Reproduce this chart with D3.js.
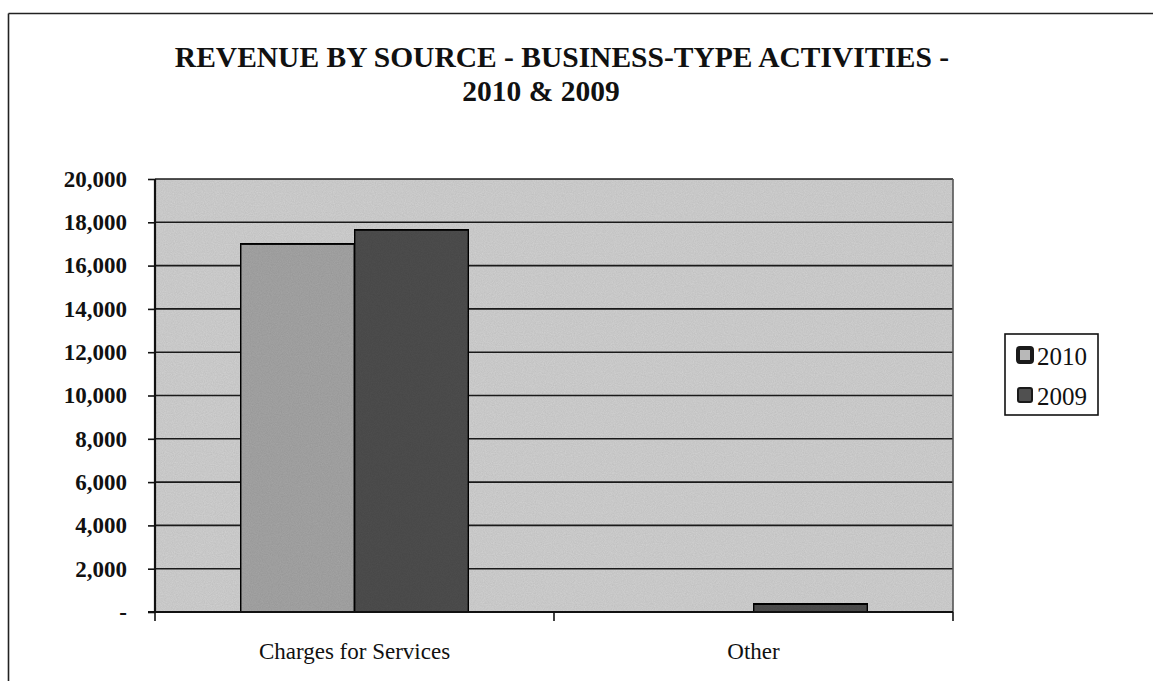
<!DOCTYPE html>
<html>
<head>
<meta charset="utf-8">
<script src="https://cdn.jsdelivr.net/npm/d3@7"></script>
<style>
  html, body { margin: 0; padding: 0; background: #fff; }
  svg { display: block; }
</style>
</head>
<body>
<svg id="chart" width="1153" height="681"></svg>
<script>
// Revenue by source, business-type activities (thousands of dollars)
const categories = ["Charges for Services", "Other"];
const seriesNames = ["2010", "2009"];
const values2010 = [17000, 40];
const values2009 = [17650, 370];
const yTicks = [0, 2000, 4000, 6000, 8000, 10000, 12000, 14000, 16000, 18000, 20000];
const titleLines = ["REVENUE BY SOURCE - BUSINESS-TYPE ACTIVITIES -", "2010 & 2009"];

const colors = { "2010": "#a6a6a6", "2009": "#505050" };
const serif = "'Liberation Serif', 'Times New Roman', serif";

const svg = d3.select("#chart");
const W = 1153, H = 681;
const plot = { left: 155, top: 179, right: 953, bottom: 612 };

// Outer chart frame (top and left edges visible)
svg.append("line").attr("x1", 8.5).attr("y1", 13.5).attr("x2", W).attr("y2", 13.5)
  .attr("stroke", "#222").attr("stroke-width", 1.6);
svg.append("line").attr("x1", 8.5).attr("y1", 13.5).attr("x2", 8.5).attr("y2", H)
  .attr("stroke", "#222").attr("stroke-width", 1.6);

// Title
svg.append("text")
  .attr("font-family", serif).attr("font-weight", "bold").attr("font-size", 29.5)
  .attr("fill", "#111").attr("text-anchor", "middle")
  .selectAll("tspan").data(titleLines).join("tspan")
  .attr("x", (d, i) => i === 0 ? 562 : 541)
  .attr("y", (d, i) => 67 + i * 34)
  .text(d => d);

const x0 = d3.scaleBand().domain(categories).range([plot.left, plot.right]).paddingInner(0).paddingOuter(0);
const y = d3.scaleLinear().domain([0, 20000]).range([plot.bottom, plot.top]);
// Excel-style 150% gap width: two bars take 2/3.5 of each band
const groupW = x0.bandwidth() * 2 / 3.5;
const x1 = d3.scaleBand().domain(seriesNames).range([0, groupW]);

// Grain for the plot area and bars
const defs = svg.append("defs");
const f = defs.append("filter").attr("id", "grain").attr("x", 0).attr("y", 0).attr("width", 1).attr("height", 1);
f.append("feTurbulence").attr("type", "fractalNoise").attr("baseFrequency", 0.9).attr("numOctaves", 2).attr("seed", 3).attr("result", "n");
f.append("feColorMatrix").attr("in", "n").attr("type", "matrix")
  .attr("values", "0 0 0 0 0  0 0 0 0 0  0 0 0 0 0  0 0 0 0.2 0").attr("result", "a");
f.append("feComposite").attr("in", "a").attr("in2", "SourceGraphic").attr("operator", "in").attr("result", "m");
f.append("feMerge").call(m => { m.append("feMergeNode").attr("in", "SourceGraphic"); m.append("feMergeNode").attr("in", "m"); });

svg.append("rect")
  .attr("x", plot.left).attr("y", plot.top)
  .attr("width", plot.right - plot.left).attr("height", plot.bottom - plot.top)
  .attr("fill", "#d2d2d2").attr("filter", "url(#grain)");

// Horizontal gridlines
svg.append("g").selectAll("line").data(yTicks.filter(t => t > 0)).join("line")
  .attr("x1", plot.left).attr("x2", plot.right)
  .attr("y1", d => y(d)).attr("y2", d => y(d))
  .attr("stroke", "#1a1a1a").attr("stroke-width", 1.6);

// Right edge of plot area
svg.append("line").attr("x1", plot.right).attr("x2", plot.right)
  .attr("y1", plot.top).attr("y2", plot.bottom)
  .attr("stroke", "#555").attr("stroke-width", 1.6);

// Bars
const rows = categories.map((c, i) => ({ cat: c, vals: [
  { key: "2010", v: values2010[i] }, { key: "2009", v: values2009[i] }] }));
svg.append("g").selectAll("g").data(rows).join("g")
  .attr("transform", d => `translate(${x0(d.cat) + (x0.bandwidth() - groupW) / 2},0)`)
  .selectAll("rect").data(d => d.vals).join("rect")
  .attr("x", d => x1(d.key)).attr("width", x1.bandwidth())
  .attr("y", d => y(d.v)).attr("height", d => y(0) - y(d.v))
  .attr("fill", d => colors[d.key]).attr("stroke", "#111").attr("stroke-width", 2)
  .attr("filter", "url(#grain)");

// Y axis
const yAxis = d3.axisLeft(y).tickValues(yTicks).tickSize(7).tickPadding(21)
  .tickFormat(d => d === 0 ? "-" : d3.format(",")(d));
const gy = svg.append("g").attr("transform", `translate(${plot.left},0)`).call(yAxis);
gy.select(".domain").attr("stroke", "#111").attr("stroke-width", 2.2).attr("d", `M0,${plot.top}V${plot.bottom}`);
gy.selectAll(".tick line").attr("stroke", "#111").attr("stroke-width", 1.6);
gy.selectAll(".tick text").attr("font-family", serif).attr("font-weight", "bold")
  .attr("font-size", 23).attr("fill", "#111");

// X axis: tick marks at category boundaries, labels at centres
const gx = svg.append("g").attr("transform", `translate(0,${plot.bottom})`);
gx.append("line").attr("x1", plot.left - 7).attr("x2", plot.right)
  .attr("stroke", "#111").attr("stroke-width", 2.2);
const bounds = [plot.left, x0(categories[1]), plot.right];
gx.selectAll("line.tk").data(bounds).join("line").attr("class", "tk")
  .attr("x1", d => d).attr("x2", d => d).attr("y1", 0).attr("y2", 9)
  .attr("stroke", "#111").attr("stroke-width", 1.6);
gx.selectAll("text").data(categories).join("text")
  .attr("x", d => x0(d) + x0.bandwidth() / 2).attr("y", 47)
  .attr("text-anchor", "middle").attr("font-family", serif).attr("font-size", 23)
  .attr("fill", "#111").text(d => d);

// Legend
const lg = svg.append("g").attr("transform", "translate(1005,334)");
lg.append("rect").attr("width", 93).attr("height", 81).attr("fill", "#fff")
  .attr("stroke", "#111").attr("stroke-width", 1.6);
const items = lg.selectAll("g").data(seriesNames).join("g")
  .attr("transform", (d, i) => `translate(13,${14 + i * 40})`);
items.append("rect").attr("width", 14).attr("height", 14).attr("rx", 2)
  .attr("fill", d => d === "2010" ? "#b8b8b8" : colors[d])
  .attr("stroke", "#1a1a1a").attr("stroke-width", d => d === "2010" ? 4 : 2);
items.append("text").attr("x", 19).attr("y", 17).attr("font-family", serif)
  .attr("font-size", 25).attr("fill", "#111").text(d => d);
</script>
</body>
</html>
